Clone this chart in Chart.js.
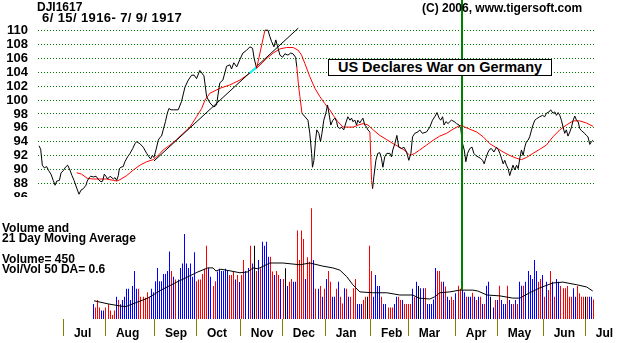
<!DOCTYPE html>
<html>
<head>
<meta charset="utf-8">
<script src="https://cdn.jsdelivr.net/npm/chart.js@4.4.1/dist/chart.umd.min.js"></script>
<style>
  html, body { margin: 0; padding: 0; background: #fff; }
  #wrap { position: relative; width: 644px; height: 343px; overflow: hidden; background: #fff; }
  #wrap canvas { position: absolute; left: 0; }
  .txt { position: absolute; font: bold 12px "Liberation Sans", Arial, sans-serif; line-height: 1; color: #000; white-space: pre; }
  #warBox { position: absolute; left: 328px; top: 59px; width: 222px; height: 15px; border: 1px solid #000; background: #fff;
            font: bold 14.5px "Liberation Sans", Arial, sans-serif; line-height: 15px; text-align: center; white-space: pre; }
</style>
</head>
<body>
<div id="wrap">
  <canvas id="priceChart" width="644" height="197" style="top:0"></canvas>
  <canvas id="volChart" width="644" height="146" style="top:197px"></canvas>
  <div class="txt" style="left:37px; top:1px">DJI1617</div>
  <div class="txt" style="left:42px; top:11px; font-size:13px; letter-spacing:0.4px">6/ 15/ 1916- 7/ 9/ 1917</div>
  <div class="txt" style="left:422px; top:1.7px">(C) 2006, www.tigersoft.com</div>
  <div id="warBox">US Declares War on Germany</div>
  <div class="txt" style="left:2px; top:221.7px">Volume and</div>
  <div class="txt" style="left:2px; top:231.7px">21 Day Moving Average</div>
  <div class="txt" style="left:2px; top:253.4px">Volume= 450</div>
  <div class="txt" style="left:2px; top:263.4px">Vol/Vol 50 DA= 0.6</div>
</div>
<script>
// x values are trading-day indexes counted from 6/15/1916

// DJI closing path (day, value)
const priceDays = [
  0.5, 1.3, 2.1, 3.1, 4.2, 5.2, 6.3, 7.4, 8.3, 9.1, 10.4, 11.2, 12.3, 13.3, 14.4, 15.5, 16.5, 17.5, 18.8, 19.9,
  20.9, 22.0, 23.3, 23.9, 24.9, 25.6, 26.9, 28.2, 29.4, 30.6, 31.4, 32.2, 33.0, 33.8, 35.0, 36.6, 37.4, 38.2, 39.0, 39.5,
  40.3, 41.4, 42.2, 43.5, 44.7, 46.0, 47.1, 47.9, 49.5, 51.1, 52.8, 53.9, 54.7, 55.5, 56.3, 57.3, 58.4, 59.2, 60.0, 60.8,
  61.9, 62.8, 63.6, 64.6, 65.7, 67.0, 68.1, 69.7, 71.4, 73.0, 74.6, 75.9, 77.0, 78.6, 80.6, 81.9, 83.5, 85.4, 86.7, 88.3,
  89.8, 91.6, 93.2, 94.0, 95.1, 96.5, 98.1, 99.5, 101.3, 102.9, 104.2, 105.0, 106.2, 110.2, 111.7, 112.6, 113.4, 114.6, 115.5, 116.4,
  117.5, 118.8, 119.9, 121.4, 122.7, 123.8, 125.1, 125.7, 126.6, 127.2, 128.2, 131.1, 132.0, 132.9, 133.3, 134.0, 134.8, 135.4, 136.4, 137.2,
  137.9, 138.8, 139.8, 140.6, 141.3, 142.2, 143.2, 144.2, 145.0, 145.6, 146.6, 147.4, 148.5, 149.5, 150.5, 151.5, 152.3, 152.9, 153.9, 154.7,
  155.3, 156.3, 157.1, 157.8, 158.7, 159.6, 160.2, 161.2, 162.0, 162.5, 163.1, 164.1, 165.0, 166.0, 166.8, 167.5, 168.4, 169.4, 170.9, 171.7,
  172.3, 173.3, 174.3, 175.2, 176.6, 177.7, 179.0, 180.1, 181.1, 181.9, 183.0, 184.5, 185.4, 186.7, 188.7, 190.3, 191.6, 192.7, 193.8, 194.8,
  195.6, 196.5, 197.2, 198.1, 199.2, 200.0, 200.8, 202.1, 203.3, 204.5, 205.3, 206.2, 207.0, 207.8, 208.6, 209.7, 210.8, 211.7, 212.6, 213.7,
  214.9, 215.9, 216.7, 217.5, 218.6, 219.4, 220.2, 221.4, 222.7, 223.6, 224.3, 225.1, 225.9, 226.7, 227.5, 228.3, 229.1, 229.9, 230.7, 231.6,
  232.4, 233.2, 234.0, 234.8, 235.6, 236.4, 237.2, 238.0, 238.8, 239.7, 240.4, 241.3, 242.1, 243.7, 245.0, 246.1, 246.9, 248.2, 249.0, 250.1,
  251.0, 251.8, 252.6, 253.4, 254.2, 255.0, 255.8, 256.6, 257.4, 258.3, 259.1, 259.9, 260.7, 261.5, 262.3, 263.1, 263.9, 264.7, 265.5, 266.3,
  267.1, 268.0, 268.8, 269.6
];
const priceVals = [
  93.4, 92.9, 90.6, 90.2, 90.4, 89.8, 89.3, 88.4, 87.7, 88.3, 88.4, 89.5, 89.8, 90.3, 90.6, 89.9, 89.1, 88.4, 87.3, 86.4,
  87.0, 87.2, 87.7, 88.3, 88.8, 89.0, 88.9, 89.0, 88.5, 88.2, 88.3, 89.3, 89.0, 88.6, 89.0, 88.6, 88.8, 88.4, 89.1, 90.1,
  90.3, 90.4, 91.1, 91.8, 92.3, 93.0, 93.7, 94.0, 93.7, 93.2, 92.3, 91.8, 91.5, 92.0, 91.7, 92.8, 94.2, 94.6, 94.8, 95.7,
  96.9, 98.1, 98.8, 98.6, 98.6, 98.6, 98.6, 99.8, 101.9, 102.9, 103.6, 103.6, 103.1, 104.3, 103.5, 100.5, 99.6, 99.0, 99.3, 102.5,
  102.9, 104.9, 105.1, 104.5, 105.4, 104.8, 105.9, 106.8, 107.2, 107.7, 107.5, 106.0, 104.6, 110.1, 110.1, 109.2, 108.5, 107.7, 108.7, 107.7,
  106.5, 106.2, 106.7, 106.5, 106.8, 106.7, 106.2, 104.8, 101.9, 100.5, 98.1, 97.1, 95.2, 92.3, 90.3, 91.3, 94.2, 95.7, 95.2, 94.0,
  95.2, 97.1, 98.1, 99.3, 98.1, 96.4, 97.1, 97.4, 96.9, 96.1, 95.9, 96.1, 95.7, 96.7, 97.6, 97.1, 97.4, 96.9, 97.1, 96.4,
  97.1, 96.7, 97.1, 97.4, 96.4, 96.1, 95.7, 95.4, 88.4, 87.2, 88.9, 91.3, 92.3, 92.4, 91.6, 90.3, 91.8, 92.3, 92.3, 91.8,
  92.8, 93.7, 94.9, 93.2, 93.0, 93.2, 92.5, 91.3, 92.3, 94.7, 95.2, 95.4, 95.7, 95.2, 95.4, 96.1, 97.1, 97.6, 98.2, 97.4,
  97.1, 97.6, 96.4, 96.9, 96.6, 96.9, 97.1, 96.9, 96.6, 96.4, 95.9, 93.7, 92.8, 91.1, 92.3, 93.0, 93.2, 92.3, 92.0, 91.8,
  91.6, 91.3, 90.8, 91.6, 92.5, 92.9, 93.0, 92.5, 93.2, 92.8, 92.3, 91.6, 90.8, 91.3, 90.6, 90.1, 89.1, 89.9, 90.6, 89.9,
  90.6, 90.1, 91.6, 92.8, 92.0, 93.2, 94.0, 94.2, 94.7, 95.7, 96.4, 97.1, 97.3, 97.6, 97.8, 97.6, 98.1, 98.3, 98.6, 98.1,
  98.3, 97.8, 98.2, 97.8, 97.1, 96.1, 95.2, 95.7, 94.8, 95.4, 96.1, 97.1, 97.7, 97.1, 96.9, 95.9, 95.6, 95.4, 95.2, 94.9,
  94.7, 93.6, 94.0, 94.2
];
// stretches where the price line is drawn red (big moves)
const bigMoveRuns = [[106.2, 110.2], [125.7, 128.2], [161.2, 162.5]];

// 21 day moving average of price
const maDays = [
  18.8, 21.2, 23.9, 26.8, 30.1, 33.3, 36.6, 38.2, 39.8, 43.1, 46.3, 49.5, 52.8, 56.0, 58.4, 60.8, 64.1, 67.3, 70.5, 73.8,
  77.0, 79.5, 81.1, 83.5, 88.3, 93.2, 98.1, 102.9, 106.9, 111.0, 114.2, 117.5, 120.7, 123.9, 126.4, 128.0, 129.6, 132.0, 134.5, 136.9,
  139.3, 141.7, 143.4, 145.6, 148.2, 150.6, 153.1, 155.5, 157.9, 160.3, 162.8, 166.0, 169.3, 172.5, 175.7, 178.2, 180.6, 183.0, 185.4, 188.7,
  191.9, 195.1, 198.4, 201.6, 204.0, 205.7, 207.3, 209.7, 213.0, 216.2, 219.4, 222.7, 225.9, 229.1, 232.4, 234.8, 237.2, 240.4, 243.7, 246.9,
  250.1, 253.4, 256.6, 259.9, 263.1, 266.3, 269.6
];
const maVals = [
  89.5, 89.3, 88.7, 88.6, 88.6, 88.6, 88.4, 88.3, 88.5, 89.1, 89.9, 90.6, 91.1, 91.4, 92.0, 92.8, 93.5, 94.3, 95.2, 96.1,
  97.6, 98.8, 100.0, 101.0, 101.7, 102.2, 102.9, 103.9, 104.8, 106.0, 106.8, 107.4, 107.6, 107.6, 107.2, 106.5, 105.3, 103.4, 101.7, 100.5,
  99.5, 98.6, 97.8, 96.9, 96.1, 96.1, 96.1, 96.4, 96.6, 96.4, 95.7, 94.9, 94.3, 93.7, 93.2, 92.7, 92.0, 92.3, 92.8, 93.5,
  94.2, 94.8, 95.2, 95.8, 96.2, 96.4, 96.1, 95.8, 95.4, 94.7, 93.7, 93.1, 92.5, 92.0, 91.6, 91.4, 91.7, 92.3, 92.9, 93.5,
  94.7, 95.7, 96.4, 97.0, 97.0, 96.7, 96.2
];

// up-trendline and its highlighted touch
const trendDays = [56.3, 126.4];
const trendVals = [91.2, 110.4];
const touchDays = [102.9, 106.2];
const touchVals = [103.9, 104.8];

const warDay = 205.8;   // 4/6/1917
const priceTicks = [86, 88, 90, 92, 94, 96, 98, 100, 102, 104, 106, 108, 110];

// daily volume (thousands), one bar per trading day from volStartDay
const volStartDay = 27;
const volVals = [
  340, 260, 430, 260, 190, 190, 260, 330, 190, 90, 190,
  500, 430, 330, 430, 500, 680, 680, 430, 740, 1080, 680,
  680, 500, 500, 480, 600, 500,
  680, 600, 850, 1150, 850, 850, 1010, 1010, 1080, 1520,
  1080, 950, 890, 890, 1150, 1250, 1910, 1250, 1150, 1250, 950, 1500,
  850, 890, 890, 1010, 1130, 1650,
  1150, 950,
  740, 850,
  1070, 1130, 1080, 1080, 1130, 1080,
  990, 990, 1080,
  890, 990, 830, 990, 1330, 1080, 1150, 1650, 1250, 1650, 1080, 1330,
  1140, 1740, 1650, 1740, 1400, 1400, 1070, 990, 1080, 990, 900, 900, 1140, 740, 840, 900, 840, 840,
  1990, 1330, 1990, 1800, 900, 1390, 1290, 2490, 1330,
  680, 680, 740, 500, 680, 900, 1080, 840, 500, 500, 680, 840, 500, 350, 690, 680, 500, 500, 690, 900,
  340, 340, 340, 430, 500, 500, 1650, 1080, 500, 990, 740, 740, 500,
  340, 340, 260, 260, 260, 340, 500, 500, 430, 430, 340, 340, 340, 340,
  680, 500, 840, 740, 690, 690, 690, 340, 340, 340, 440, 1150,
  1080, 1080, 840, 840, 730, 500, 430, 500, 430, 580, 750, 680,
  650, 600, 500, 500, 500, 590, 500,
  430, 500, 500, 340, 340, 750, 840, 500, 260, 430, 430, 750, 430, 340, 340, 750, 430, 340, 340, 430, 340,
  840, 750, 750, 840, 1080, 990, 900, 1330, 1080, 840, 900, 990, 500, 840, 650, 1080, 840, 500, 900, 840,
  740, 690, 690, 740, 500, 500, 690, 500, 740, 580, 500, 500, 500, 500, 500, 500, 440
];
// b = up day, r = down day, k = unchanged
const volKinds =
  "brrrbbrrrrr" + "brbbbbbbbbb" + "rrrrrr" + "bbbbbbbbbb" + "rbrbbbbbbbbb" + "rrrrrr" + "bb" + "rr" +
  "bbbbbb" + "rrr" + "brbrrbbrbkrb" + "rbbbbrrbrrbrkbrrbb" + "rrrrbrrrb" + "rbrbrbrrbbrbrrbrbrrr" +
  "bbbrrkrrbbbbr" + "bbrrrbbrrbrrrr" + "brbkbbrbbbbb" + "rrrbrbbrrbrr" + "bbrbbrb" +
  "rbrbrbbkbrbrbbbrbbrbr" + "bbrbbbbbbrrbrbrrbrbb" + "rrrrrrbbrrrrkrbbr";

// 21 day moving average of volume
const volMaDays = [
  27.2, 34.0, 40.3, 42.7, 47.1, 53.4, 59.7, 66.5, 72.8, 77.7, 82.5, 85.0, 86.4, 88.8, 93.7, 98.1, 101.9, 104.4, 106.8, 112.6,
  118.9, 127.2, 132.0, 138.3, 143.2, 146.6, 150.0, 152.9, 156.3, 162.6, 169.4, 175.7, 182.0, 185.0, 190.3, 192.7, 195.1, 200.0, 204.9, 211.2,
  213.6, 218.0, 224.3, 230.6, 234.0, 238.8, 243.7, 250.0, 254.9, 261.7, 266.5, 269.4
];
const volMaVals = [
  410, 340, 290, 280, 360, 470, 650, 810, 950, 1060, 1150, 1150, 1080, 1120, 1080, 1040, 1060, 1150, 1130, 1260,
  1260, 1220, 1260, 1190, 1150, 1100, 950, 770, 610, 590, 590, 540, 540, 470, 450, 500, 590, 610, 650, 650,
  630, 540, 520, 470, 470, 590, 700, 810, 830, 770, 720, 630
];

// month tick positions (first trading day) and labels
const monthDays = [12.6, 33.0, 56.8, 77.2, 98.5, 118.9, 139.8, 161.7, 180.1, 202.9, 223.3, 245.6, 266.0];
const monthLabels = ['Jul', 'Aug', 'Sep', 'Oct', 'Nov', 'Dec', 'Jan', 'Feb', 'Mar', 'Apr', 'May', 'Jun', 'Jul'];

const FONT = '"Liberation Sans", Arial, sans-serif';
const kindColor = { b: '#0000ff', r: '#ff0000', k: '#000000' };
const pts = (xs, ys) => xs.map((x, i) => ({ x: x, y: ys[i] }));

// vertical marker at the war declaration
const warLine = {
  id: 'warLine',
  afterDatasetsDraw(chart, args, opts) {
    const x = Math.round(chart.scales.x.getPixelForValue(warDay));
    const c = chart.ctx;
    c.save();
    c.strokeStyle = '#008000';
    c.lineWidth = 2;
    c.beginPath();
    c.moveTo(x, 0);
    c.lineTo(x, opts.bottom != null ? chart.chartArea.bottom - opts.bottom : chart.height);
    c.stroke();
    c.restore();
  }
};

// 1px volume bars snapped to whole pixels so they stay solid
const crispBars = {
  id: 'crispBars',
  beforeDatasetsDraw(chart) {
    chart.getSortedVisibleDatasetMetas().forEach(m => {
      if (m.type === 'bar') m.data.forEach(el => { el.x = Math.floor(el.x) + 0.5; });
    });
  }
};

new Chart(document.getElementById('priceChart'), {
  type: 'line',
  data: {
    datasets: [
      {
        data: pts(priceDays, priceVals),
        borderColor: '#000000',
        borderWidth: 1,
        pointRadius: 0,
        segment: {
          borderColor: ctx => bigMoveRuns.some(([a, b]) => ctx.p0.parsed.x >= a && ctx.p1.parsed.x <= b) ? '#ff0000' : undefined
        }
      },
      { data: pts(touchDays, touchVals), borderColor: '#00ffff', borderWidth: 2, pointRadius: 0 },
      { data: pts(trendDays, trendVals), borderColor: '#000000', borderWidth: 1, pointRadius: 0 },
      { data: pts(maDays, maVals), borderColor: '#ff0000', borderWidth: 1, pointRadius: 0 }
    ]
  },
  options: {
    responsive: false,
    animation: false,
    events: [],
    layout: { padding: { left: 0, right: 48, top: 24, bottom: 0 } },
    plugins: { legend: { display: false }, tooltip: { enabled: false }, warLine: {} },
    scales: {
      x: { type: 'linear', min: 0, max: 271, display: false },
      y: {
        min: 86, max: 111,
        afterBuildTicks: s => { s.ticks = priceTicks.map(v => ({ value: v })); },
        afterFit: s => { s.width = 38; s.paddingTop = 0; s.paddingBottom = 0; },
        border: { display: false, dash: [1, 2] },
        grid: {
          drawTicks: false,
          color: c => (c.tick && c.tick.value > 87) ? '#008000' : 'rgba(0,0,0,0)'
        },
        ticks: { autoSkip: false, padding: 10, color: '#000', font: { family: FONT, size: 13, weight: 'bold' } }
      }
    }
  },
  plugins: [warLine]
});

new Chart(document.getElementById('volChart'), {
  data: {
    datasets: [
      {
        type: 'line',
        order: 0,
        data: pts(volMaDays, volMaVals),
        borderColor: '#000000',
        borderWidth: 1,
        pointRadius: 0
      },
      {
        type: 'bar',
        order: 1,
        data: volVals.map((v, i) => ({ x: volStartDay + i, y: v })),
        backgroundColor: volVals.map((v, i) => kindColor[volKinds[i]]),
        barThickness: 1,
        borderWidth: 0,
        inflateAmount: 0
      }
    ]
  },
  options: {
    responsive: false,
    animation: false,
    events: [],
    layout: { padding: { left: 38, right: 48, top: 0, bottom: 0 } },
    plugins: { legend: { display: false }, tooltip: { enabled: false }, warLine: { bottom: 29 } },
    scales: {
      x: {
        type: 'linear', min: 0, max: 271, offset: false,
        afterBuildTicks: s => { s.ticks = monthDays.map(v => ({ value: v })); },
        afterFit: s => { s.height = 24; s.paddingLeft = 0; s.paddingRight = 0; },
        border: { display: false },
        grid: { offset: false, drawOnChartArea: false, drawTicks: true, tickLength: 17, tickColor: '#808000' },
        ticks: {
          align: 'start', labelOffset: 10, padding: -10, maxRotation: 0, autoSkip: false,
          color: '#000', font: { family: FONT, size: 12, weight: 'bold' },
          callback: (v, i) => monthLabels[i]
        }
      },
      y: { min: 0, max: 2745, display: false }
    }
  },
  plugins: [warLine, crispBars]
});
</script>
</body>
</html>
